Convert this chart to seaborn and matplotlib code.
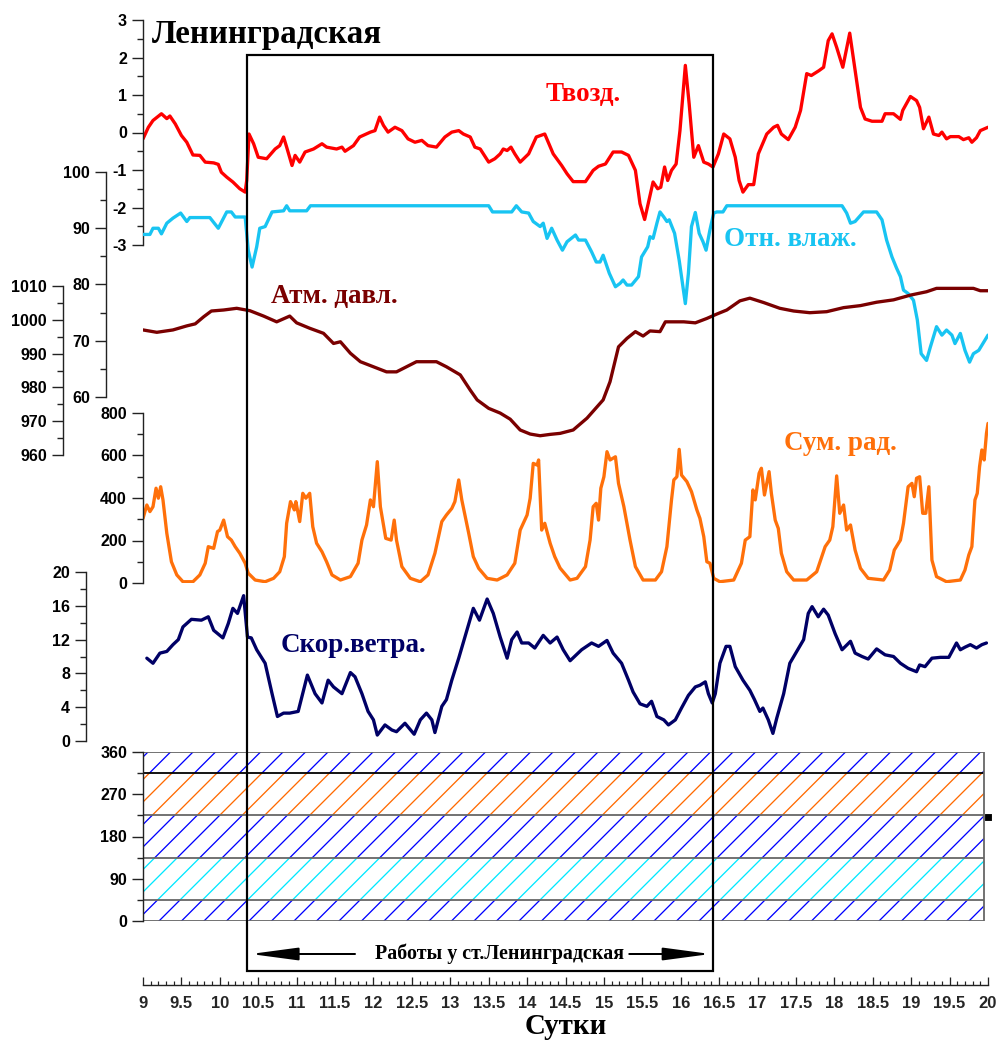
import matplotlib
matplotlib.use("Agg")
import matplotlib.pyplot as plt
from matplotlib.patches import Rectangle
from matplotlib.ticker import MultipleLocator, FormatStrFormatter
import seaborn as sns

# ---- values (x = day of month) ----
t_day = [9.0, 9.07, 9.13, 9.24, 9.31, 9.35, 9.42, 9.5, 9.57, 9.65,
         9.74, 9.81, 9.92, 9.98, 10.02, 10.09, 10.17, 10.26, 10.33, 10.35,
         10.38, 10.44, 10.5, 10.61, 10.72, 10.78, 10.83, 10.87, 10.94, 10.98,
         11.04, 11.11, 11.22, 11.33, 11.39, 11.52, 11.59, 11.63, 11.74, 11.82,
         11.96, 12.02, 12.08, 12.13, 12.19, 12.28, 12.37, 12.45, 12.54, 12.63,
         12.71, 12.82, 12.93, 13.02, 13.11, 13.17, 13.26, 13.32, 13.39, 13.5,
         13.58, 13.65, 13.69, 13.74, 13.79, 13.84, 13.91, 14.02, 14.12, 14.23,
         14.34, 14.45, 14.52, 14.6, 14.76, 14.86, 14.93, 15.02, 15.12, 15.23,
         15.32, 15.41, 15.47, 15.53, 15.58, 15.64, 15.7, 15.74, 15.79, 15.83,
         15.88, 15.94, 15.99, 16.06, 16.11, 16.17, 16.23, 16.3, 16.36, 16.42,
         16.49, 16.56, 16.64, 16.71, 16.76, 16.81, 16.88, 16.95, 17.01, 17.12,
         17.21, 17.26, 17.31, 17.4, 17.49, 17.56, 17.64, 17.7, 17.8, 17.86,
         17.92, 17.97, 18.03, 18.11, 18.2, 18.27, 18.34, 18.4, 18.49, 18.62,
         18.66, 18.77, 18.86, 18.89, 18.99, 19.07, 19.11, 19.16, 19.23, 19.29,
         19.36, 19.4, 19.46, 19.51, 19.62, 19.68, 19.75, 19.79, 19.85, 19.9,
         20.0]
t_val = [-0.17, 0.14, 0.32, 0.5, 0.37, 0.44, 0.23, -0.08, -0.26, -0.6,
         -0.61, -0.79, -0.81, -0.85, -1.06, -1.19, -1.32, -1.5, -1.59, -1.28,
         -0.04, -0.3, -0.66, -0.7, -0.44, -0.35, -0.12, -0.39, -0.88, -0.61,
         -0.79, -0.52, -0.44, -0.3, -0.39, -0.44, -0.39, -0.5, -0.35, -0.12,
         0.01, 0.05, 0.41, 0.19, 0.01, 0.14, 0.05, -0.17, -0.26, -0.21,
         -0.35, -0.39, -0.12, 0.01, 0.05, -0.04, -0.12, -0.39, -0.44, -0.79,
         -0.7, -0.57, -0.44, -0.48, -0.39, -0.57, -0.79, -0.57, -0.12, -0.04,
         -0.57, -0.88, -1.1, -1.31, -1.31, -1.01, -0.9, -0.84, -0.52, -0.52,
         -0.61, -1.01, -1.9, -2.32, -1.86, -1.32, -1.5, -1.46, -0.92, -1.28,
         -1.01, -0.84, 0.05, 1.79, 0.76, -0.66, -0.35, -0.79, -0.84, -0.92,
         -0.57, -0.04, -0.17, -0.66, -1.28, -1.59, -1.39, -1.39, -0.57, -0.04,
         0.14, 0.19, -0.04, -0.19, 0.14, 0.59, 1.57, 1.52, 1.65, 1.74,
         2.45, 2.63, 2.27, 1.74, 2.65, 1.65, 0.67, 0.36, 0.3, 0.3,
         0.5, 0.5, 0.35, 0.59, 0.96, 0.85, 0.67, 0.1, 0.41, -0.04,
         -0.08, 0.01, -0.17, -0.11, -0.11, -0.19, -0.14, -0.26, -0.14, 0.05,
         0.14]

h_day = [9.0, 9.09, 9.13, 9.2, 9.24, 9.31, 9.39, 9.49, 9.57, 9.61,
         9.87, 9.98, 10.09, 10.15, 10.2, 10.33, 10.37, 10.42, 10.48, 10.52,
         10.59, 10.68, 10.83, 10.87, 10.91, 11.13, 11.18, 13.5, 13.55, 13.8,
         13.86, 13.93, 14.02, 14.08, 14.17, 14.21, 14.26, 14.32, 14.39, 14.46,
         14.52, 14.63, 14.67, 14.76, 14.84, 14.9, 14.95, 14.99, 15.07, 15.15,
         15.21, 15.25, 15.3, 15.36, 15.45, 15.49, 15.57, 15.6, 15.64, 15.69,
         15.73, 15.78, 15.82, 15.85, 15.92, 15.98, 16.06, 16.1, 16.14, 16.19,
         16.24, 16.29, 16.33, 16.38, 16.43, 16.47, 16.55, 16.6, 18.1, 18.16,
         18.21, 18.27, 18.38, 18.55, 18.62, 18.68, 18.75, 18.81, 18.86, 18.9,
         18.96, 19.03, 19.08, 19.13, 19.2, 19.25, 19.33, 19.4, 19.46, 19.53,
         19.57, 19.64, 19.7, 19.76, 19.81, 19.88, 19.92, 20.0]
h_val = [88.9, 88.9, 90.0, 90.0, 89.0, 90.9, 91.8, 92.7, 91.2, 91.9,
         91.9, 90.0, 92.9, 92.9, 92.0, 92.0, 86.1, 83.1, 86.7, 90.0,
         90.3, 92.9, 93.1, 94.0, 93.1, 93.1, 94.0, 94.0, 92.9, 92.9,
         94.0, 92.9, 92.7, 91.2, 90.3, 90.9, 88.2, 90.0, 87.9, 86.1,
         87.6, 88.8, 87.9, 87.9, 85.8, 84.0, 84.0, 85.2, 82.0, 79.6,
         80.2, 80.8, 79.9, 79.9, 81.4, 84.9, 86.7, 88.5, 88.2, 90.9,
         92.9, 92.0, 91.2, 91.5, 89.1, 84.3, 76.6, 82.0, 90.3, 92.8,
         89.1, 87.6, 86.1, 89.7, 92.7, 92.9, 92.9, 94.0, 94.0, 92.7,
         90.9, 91.2, 92.9, 92.9, 91.5, 87.9, 84.9, 82.9, 81.4, 79.0,
         78.4, 77.2, 73.7, 67.7, 66.5, 68.9, 72.5, 71.0, 71.9, 71.0,
         69.5, 71.3, 68.3, 66.2, 67.7, 68.3, 69.2, 71.0]

p_day = [9.0, 9.18, 9.39, 9.57, 9.68, 9.79, 9.89, 10.05, 10.22, 10.39,
         10.57, 10.74, 10.91, 11.0, 11.17, 11.35, 11.48, 11.57, 11.7, 11.83,
         12.0, 12.17, 12.3, 12.43, 12.56, 12.82, 12.95, 13.13, 13.26, 13.35,
         13.5, 13.65, 13.78, 13.91, 14.04, 14.17, 14.3, 14.43, 14.6, 14.78,
         14.99, 15.08, 15.19, 15.3, 15.41, 15.51, 15.6, 15.73, 15.8, 15.86,
         16.04, 16.19, 16.34, 16.47, 16.6, 16.77, 16.9, 17.08, 17.29, 17.47,
         17.68, 17.9, 18.12, 18.34, 18.55, 18.77, 18.99, 19.2, 19.33, 19.64,
         19.81, 19.9, 20.0]
p_val = [997.0, 996.3, 997.0, 998.2, 998.8, 1000.9, 1002.6, 1002.9, 1003.4, 1002.7,
         1001.1, 999.4, 1001.1, 999.1, 997.5, 996.0, 993.0, 993.5, 990.1, 987.6,
         986.1, 984.6, 984.6, 986.1, 987.6, 987.6, 986.1, 983.7, 979.2, 976.3,
         973.8, 972.4, 970.6, 967.4, 966.2, 965.7, 966.1, 966.4, 967.4, 970.9,
         976.3, 981.7, 992.0, 994.5, 996.5, 995.2, 996.7, 996.5, 999.4, 999.4,
         999.4, 999.1, 1000.4, 1001.7, 1002.9, 1005.6, 1006.4, 1005.1, 1003.4, 1002.6,
         1002.1, 1002.4, 1003.6, 1004.2, 1005.2, 1005.9, 1007.3, 1008.3, 1009.3, 1009.3,
         1009.3, 1008.6, 1008.6]

r_day = [9.0, 9.05, 9.09, 9.13, 9.17, 9.2, 9.23, 9.26, 9.31, 9.37,
         9.44, 9.52, 9.65, 9.74, 9.81, 9.85, 9.92, 9.97, 10.0, 10.05,
         10.1, 10.15, 10.2, 10.26, 10.33, 10.37, 10.46, 10.59, 10.7, 10.78,
         10.84, 10.87, 10.92, 10.97, 10.99, 11.04, 11.08, 11.12, 11.17, 11.21,
         11.26, 11.33, 11.39, 11.46, 11.57, 11.7, 11.8, 11.85, 11.91, 11.96,
         12.0, 12.05, 12.09, 12.16, 12.23, 12.27, 12.3, 12.37, 12.48, 12.61,
         12.71, 12.8, 12.89, 12.95, 13.02, 13.06, 13.11, 13.15, 13.24, 13.3,
         13.37, 13.48, 13.61, 13.74, 13.84, 13.91, 14.0, 14.04, 14.08, 14.13,
         14.15, 14.19, 14.23, 14.3, 14.36, 14.43, 14.56, 14.65, 14.76, 14.82,
         14.86, 14.9, 14.93, 14.96, 15.0, 15.04, 15.08, 15.15, 15.19, 15.26,
         15.34, 15.41, 15.51, 15.67, 15.75, 15.82, 15.88, 15.91, 15.95, 15.98,
         16.01, 16.08, 16.14, 16.21, 16.25, 16.3, 16.34, 16.38, 16.43, 16.51,
         16.69, 16.79, 16.84, 16.9, 16.94, 16.97, 17.02, 17.05, 17.09, 17.15,
         17.18, 17.23, 17.27, 17.31, 17.38, 17.47, 17.64, 17.77, 17.88, 17.94,
         17.98, 18.03, 18.07, 18.12, 18.16, 18.21, 18.27, 18.34, 18.44, 18.64,
         18.72, 18.78, 18.86, 18.9, 18.96, 19.01, 19.04, 19.07, 19.11, 19.15,
         19.19, 19.23, 19.27, 19.33, 19.46, 19.64, 19.7, 19.75, 19.79, 19.83,
         19.86, 19.89, 19.92, 19.95, 19.98, 20.0]
r_val = [304, 367, 336, 359, 446, 399, 453, 391, 234, 100,
         38, 6, 6, 38, 93, 171, 163, 242, 249, 296,
         218, 202, 171, 140, 93, 46, 14, 6, 22, 53,
         124, 281, 383, 344, 383, 289, 422, 399, 422, 265,
         187, 147, 100, 38, 14, 30, 93, 202, 273, 391,
         359, 571, 359, 210, 202, 296, 202, 77, 22, 6,
         38, 140, 289, 320, 351, 383, 485, 391, 234, 124,
         69, 22, 14, 38, 93, 249, 320, 399, 563, 555,
         579, 249, 281, 187, 124, 70, 14, 22, 77, 202,
         359, 375, 296, 446, 500, 618, 579, 594, 469, 359,
         202, 77, 14, 14, 53, 171, 391, 485, 500, 629,
         508, 477, 430, 344, 304, 218, 100, 93, 22, 6,
         14, 93, 202, 218, 438, 391, 516, 540, 414, 524,
         422, 296, 257, 140, 53, 14, 14, 53, 171, 202,
         265, 504, 328, 367, 249, 273, 155, 69, 22, 14,
         61, 155, 202, 281, 453, 469, 406, 493, 500, 328,
         328, 453, 108, 30, 6, 14, 61, 132, 171, 391,
         422, 547, 626, 579, 704, 751]

w_day = [9.05, 9.13, 9.22, 9.31, 9.39, 9.46, 9.52, 9.63, 9.76, 9.85,
         9.92, 10.04, 10.11, 10.17, 10.23, 10.31, 10.36, 10.41, 10.48, 10.59,
         10.68, 10.75, 10.83, 10.91, 11.02, 11.09, 11.14, 11.24, 11.33, 11.41,
         11.48, 11.59, 11.7, 11.76, 11.85, 11.93, 12.0, 12.05, 12.15, 12.24,
         12.3, 12.41, 12.53, 12.61, 12.69, 12.76, 12.8, 12.89, 12.95, 13.02,
         13.11, 13.19, 13.24, 13.3, 13.38, 13.48, 13.56, 13.65, 13.74, 13.8,
         13.87, 13.93, 14.02, 14.1, 14.21, 14.3, 14.39, 14.47, 14.56, 14.71,
         14.84, 14.93, 15.04, 15.12, 15.23, 15.32, 15.38, 15.47, 15.56, 15.62,
         15.69, 15.78, 15.84, 15.93, 16.01, 16.1, 16.19, 16.25, 16.32, 16.36,
         16.41, 16.45, 16.51, 16.59, 16.64, 16.71, 16.81, 16.9, 16.96, 17.03,
         17.07, 17.14, 17.2, 17.25, 17.34, 17.42, 17.51, 17.6, 17.66, 17.71,
         17.79, 17.86, 17.92, 18.01, 18.1, 18.21, 18.27, 18.36, 18.44, 18.55,
         18.66, 18.77, 18.86, 18.96, 19.07, 19.11, 19.18, 19.27, 19.38, 19.49,
         19.59, 19.64, 19.7, 19.77, 19.85, 19.92, 19.98]
w_val = [9.8, 9.2, 10.4, 10.6, 11.4, 12.0, 13.5, 14.4, 14.3, 14.7,
         13.1, 12.2, 13.9, 15.7, 15.1, 17.2, 12.3, 12.2, 10.8, 9.2,
         5.6, 2.9, 3.3, 3.3, 3.5, 6.0, 7.8, 5.6, 4.5, 7.2,
         6.4, 5.6, 8.1, 7.6, 5.6, 3.5, 2.5, 0.7, 1.9, 1.3,
         1.1, 2.1, 0.8, 2.5, 3.3, 2.5, 1.0, 4.1, 4.9, 7.2,
         9.8, 12.3, 13.9, 15.7, 14.3, 16.8, 15.1, 12.3, 9.8, 12.0,
         12.9, 11.6, 11.6, 11.0, 12.5, 11.6, 12.3, 10.8, 9.5, 10.8,
         11.6, 11.2, 11.9, 10.4, 9.2, 7.2, 5.8, 4.4, 4.1, 4.7,
         2.9, 2.5, 1.9, 2.5, 3.9, 5.4, 6.4, 6.6, 7.0, 5.6,
         4.5, 5.6, 9.2, 11.2, 11.2, 8.8, 7.2, 6.0, 4.9, 3.5,
         3.9, 2.5, 0.9, 2.7, 5.6, 9.2, 10.6, 12.0, 15.1, 15.9,
         14.7, 15.6, 14.9, 12.7, 10.8, 11.8, 10.4, 10.0, 9.7, 10.9,
         10.2, 10.0, 9.2, 8.6, 8.2, 9.0, 8.8, 9.8, 9.9, 9.9,
         11.6, 10.8, 11.1, 11.4, 11.0, 11.4, 11.6]

# wind direction sectors (deg) shown as hatched bands
dir_edges = [0, 45, 135, 225, 315, 360]
dir_colors = ["#0000ff", "#00e8ff", "#0000ff", "#ff6a00", "#0000ff"]
dir_span = [9.0, 19.95]
dir_last_day, dir_last_val = 20.0, 222

work_start, work_end = 10.36, 16.42
work_label = "Работы у ст.Ленинградская"

# ---- layout helpers (pixel based, 999x1041 canvas) ----
DPI = 135
W, H = 999, 1041
X0, X1 = 143, 988
XAX = 985  # pixel row of the time axis


def pt(px):
    return px * 72.0 / DPI


sns.set_theme(style="ticks")
plt.rcParams["font.family"] = ["Liberation Sans", "DejaVu Sans"]
plt.rcParams["font.weight"] = "bold"
plt.rcParams["axes.unicode_minus"] = False
plt.rcParams["hatch.linewidth"] = pt(1.3)

fig = plt.figure(figsize=(W / DPI, H / DPI), dpi=DPI)
fig.patch.set_facecolor("white")


def panel(top, bottom):
    ax = fig.add_axes([X0 / W, 1 - bottom / H, (X1 - X0) / W, (bottom - top) / H])
    ax.set_xlim(9, 20)
    ax.patch.set_visible(False)
    for s in ["top", "right", "bottom"]:
        ax.spines[s].set_visible(False)
    ax.set_xticks([])
    return ax


def yaxis(ax, lo, hi, major, minor, offset_px=0):
    ax.set_ylim(lo, hi)
    ax.yaxis.set_major_locator(MultipleLocator(major))
    ax.yaxis.set_minor_locator(MultipleLocator(minor))
    ax.yaxis.set_major_formatter(FormatStrFormatter("%g"))
    sp = ax.spines["left"]
    sp.set_position(("outward", pt(offset_px)))
    sp.set_linewidth(pt(1.4))
    sp.set_color("#222222")
    ax.tick_params(axis="y", which="major", direction="out", length=pt(11),
                   width=pt(1.4), color="#222222", pad=pt(5), labelsize=pt(16),
                   labelcolor="black")
    ax.tick_params(axis="y", which="minor", direction="out", length=pt(6),
                   width=pt(1.4), color="#222222")
    ax.set_xlabel("")
    ax.set_ylabel("")


LW = pt(3.3)

ax_t = panel(20, 245)
sns.lineplot(x=t_day, y=t_val, ax=ax_t, color="#ff0000", linewidth=LW,
             estimator=None, sort=False)
yaxis(ax_t, -3, 3, 1, 0.5)

ax_h = panel(172, 397)
sns.lineplot(x=h_day, y=h_val, ax=ax_h, color="#18c4f2", linewidth=LW,
             estimator=None, sort=False)
yaxis(ax_h, 60, 100, 10, 5, offset_px=37)

ax_p = panel(286, 455)
sns.lineplot(x=p_day, y=p_val, ax=ax_p, color="#7a0000", linewidth=LW,
             estimator=None, sort=False)
yaxis(ax_p, 960, 1010, 10, 5, offset_px=80)

ax_r = panel(413, 583)
sns.lineplot(x=r_day, y=r_val, ax=ax_r, color="#ff700a", linewidth=LW,
             estimator=None, sort=False)
yaxis(ax_r, 0, 800, 200, 100)

ax_w = panel(572, 741)
sns.lineplot(x=w_day, y=w_val, ax=ax_w, color="#000066", linewidth=LW,
             estimator=None, sort=False)
yaxis(ax_w, 0, 20, 4, 2, offset_px=57)

ax_d = panel(752, 921)
for lo, hi, col in zip(dir_edges[:-1], dir_edges[1:], dir_colors):
    ax_d.fill_between(dir_span, lo, hi, facecolor="none", edgecolor=col,
                      hatch="//", linewidth=0)
for e in dir_edges:
    ax_d.hlines(e, dir_span[0], dir_span[1], colors="black" if e == 315 else "#666666",
                linewidth=pt(1.8))
ax_d.vlines(dir_span[1], dir_edges[0], dir_edges[-1], colors="#666666", linewidth=pt(1.8))
ax_d.plot([dir_last_day], [dir_last_val], marker="s", ms=pt(5), color="black",
          clip_on=False)
yaxis(ax_d, 0, 360, 90, 45)

# time axis with the working period frame
ax_x = fig.add_axes([X0 / W, 1 - XAX / H, (X1 - X0) / W, (XAX - 20) / H])
ax_x.set_xlim(9, 20)
ax_x.set_ylim(0, 1)
ax_x.patch.set_visible(False)
for s in ["top", "right", "left"]:
    ax_x.spines[s].set_visible(False)
ax_x.spines["bottom"].set_linewidth(pt(1.4))
ax_x.spines["bottom"].set_color("#222222")
ax_x.set_yticks([])
ax_x.xaxis.set_major_locator(MultipleLocator(0.5))
ax_x.xaxis.set_minor_locator(MultipleLocator(0.1))
ax_x.xaxis.set_major_formatter(FormatStrFormatter("%g"))
ax_x.tick_params(axis="x", which="major", direction="in", length=pt(8),
                 width=pt(1.3), color="#222222", pad=pt(11), labelsize=pt(16.5))
ax_x.tick_params(axis="x", which="minor", direction="in", length=pt(4.5),
                 width=pt(1.2), color="#222222")


def yfrac(py):
    return (XAX - py) / (XAX - 20)


ax_x.add_patch(Rectangle((work_start, yfrac(971)), work_end - work_start,
                         yfrac(55) - yfrac(971), fill=False, edgecolor="black",
                         linewidth=pt(2.2), clip_on=False, zorder=5))
y_arrow = yfrac(954)
ax_x.text(13.64, y_arrow, work_label, ha="center", va="center",
          family=["Liberation Serif", "DejaVu Serif"], fontsize=pt(20), color="black")
arrow = dict(arrowstyle="-|>,head_length=1.8,head_width=0.24", color="black",
             lw=pt(2), shrinkA=0, shrinkB=0)
ax_x.annotate("", xy=(work_start + 0.04, y_arrow), xytext=(11.76, y_arrow),
              arrowprops=arrow)
ax_x.annotate("", xy=(work_end - 0.03, y_arrow), xytext=(15.33, y_arrow),
              arrowprops=arrow)

# texts
serif = ["Liberation Serif", "DejaVu Serif"]


def ftext(px, py, s, size_px, color, ha="center"):
    fig.text(px / W, 1 - py / H, s, ha=ha, va="center", family=serif,
             fontsize=pt(size_px), color=color, fontweight="bold")


ftext(152, 34, "Ленинградская", 33, "black", ha="left")
ftext(583, 95, "Твозд.", 27, "#ff0000")
ftext(790, 240, "Отн. влаж.", 27, "#18c4f2")
ftext(334, 296, "Атм. давл.", 27, "#7a0000")
ftext(840, 443, "Сум. рад.", 27, "#ff700a")
ftext(353, 646, "Скор.ветра.", 27, "#000066")
ftext(565.5, 1027, "Сутки", 29, "black")

fig.savefig("out.png", dpi=DPI, facecolor="white")
